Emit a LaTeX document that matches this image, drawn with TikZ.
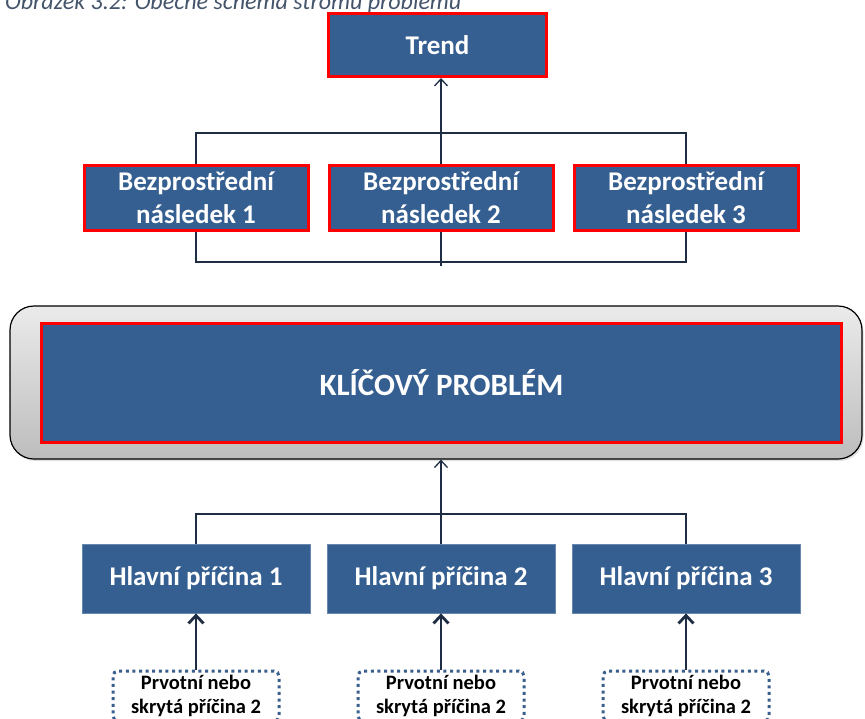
\documentclass[tikz,border=0pt]{standalone}
\usepackage{fontspec}
\setmainfont{Carlito}
\usetikzlibrary{arrows.meta,shadows}
\definecolor{boxblue}{RGB}{54,95,145}
\definecolor{linec}{RGB}{31,45,68}
\definecolor{dotblue}{RGB}{58,95,140}
\definecolor{capc}{RGB}{68,84,106}
\tikzset{
  redbox/.style={draw=red, line width=3pt, fill=boxblue, text=white, align=center, inner sep=0pt,
    font=\bfseries\fontsize{27}{33}\selectfont},
  causebox/.style={draw=boxblue!75!white, line width=0.8pt, fill=boxblue, text=white, align=center, inner sep=0pt,
    minimum width=228pt, minimum height=69pt, font=\bfseries\fontsize{27}{32}\selectfont},
  hidbox/.style={draw=dotblue, line width=3pt, dash pattern=on 3pt off 3.6pt, rounded corners=5pt, fill=white,
    align=center, inner sep=0pt, minimum width=166pt, minimum height=50pt, text=black,
    font=\bfseries\fontsize{20.5}{23.7}\selectfont},
  conn/.style={draw=linec, line width=1.3pt},
  arr/.style={conn, -{Straight Barb[length=7pt,width=13pt,line width=1.3pt]}},
  bigarr/.style={draw=linec, line width=2.8pt, -{Straight Barb[length=8pt,width=15pt,line width=2.8pt]}},
}
\begin{document}
\begin{tikzpicture}[x=1pt,y=-1pt]
\useasboundingbox (0,0) rectangle (865,718);
\clip (0,0) rectangle (865,718);

\node[anchor=base west, inner sep=0pt, text=capc, font=\itshape\fontsize{24}{28}\selectfont] (cap) at (5,9)
  {Obrázek 3.2: Obecné schéma stromu problému};

\node[redbox, minimum width=218pt, minimum height=63pt] (trend) at (437.5,45) {Trend};

\node[redbox, minimum width=224pt, minimum height=65pt] (c1) at (196,198) {Bezprostřední\\následek 1};
\node[redbox, minimum width=224pt, minimum height=65pt] (c2) at (441,198) {Bezprostřední\\následek 2};
\node[redbox, minimum width=224pt, minimum height=65pt] (c3) at (686,198) {Bezprostřední\\následek 3};

\node[draw=black, line width=1.2pt, rounded corners=24pt, top color=black!8, bottom color=black!26,
  minimum width=852pt, minimum height=153pt,
  drop shadow={shadow xshift=1.5pt, shadow yshift=-2pt, opacity=0.25}] (frame) at (436,382.5) {};
\node[redbox, minimum width=800pt, minimum height=119pt, font=\bfseries\fontsize{31}{36}\selectfont] (key) at (441.5,383) {KLÍČOVÝ PROBLÉM};

\node[causebox] (h1) at (196,578.5) {Hlavní příčina 1};
\node[causebox] (h2) at (441,578.5) {Hlavní příčina 2};
\node[causebox] (h3) at (686,578.5) {Hlavní příčina 3};

\node[hidbox] (p1) at (196,696) {Prvotní nebo\\skrytá příčina 2};
\node[hidbox] (p2) at (441,696) {Prvotní nebo\\skrytá příčina 2};
\node[hidbox] (p3) at (686,696) {Prvotní nebo\\skrytá příčina 2};

% upper bracket and arrow to Trend
\coordinate (ut) at (441,133);
\draw[conn] (c1.north) |- (ut) -| (c3.north);
\draw[arr] (c2.north) -- (c2.north |- trend.south);

% lower bracket under consequences
\coordinate (lb) at (441,262);
\draw[conn] (c1.south) |- (lb) -| (c3.south);
\draw[conn] (c2.south) -- ++(0,34);

% causes to key problem
\coordinate (kb) at (441,514);
\draw[conn] (h1.north) |- (kb) -| (h3.north);
\draw[arr] (h2.north) -- (h2.north |- frame.south);

% hidden causes to main causes
\draw[bigarr] (p1.north) -- (h1.south);
\draw[bigarr] (p2.north) -- (h2.south);
\draw[bigarr] (p3.north) -- (h3.south);
\end{tikzpicture}
\end{document}
